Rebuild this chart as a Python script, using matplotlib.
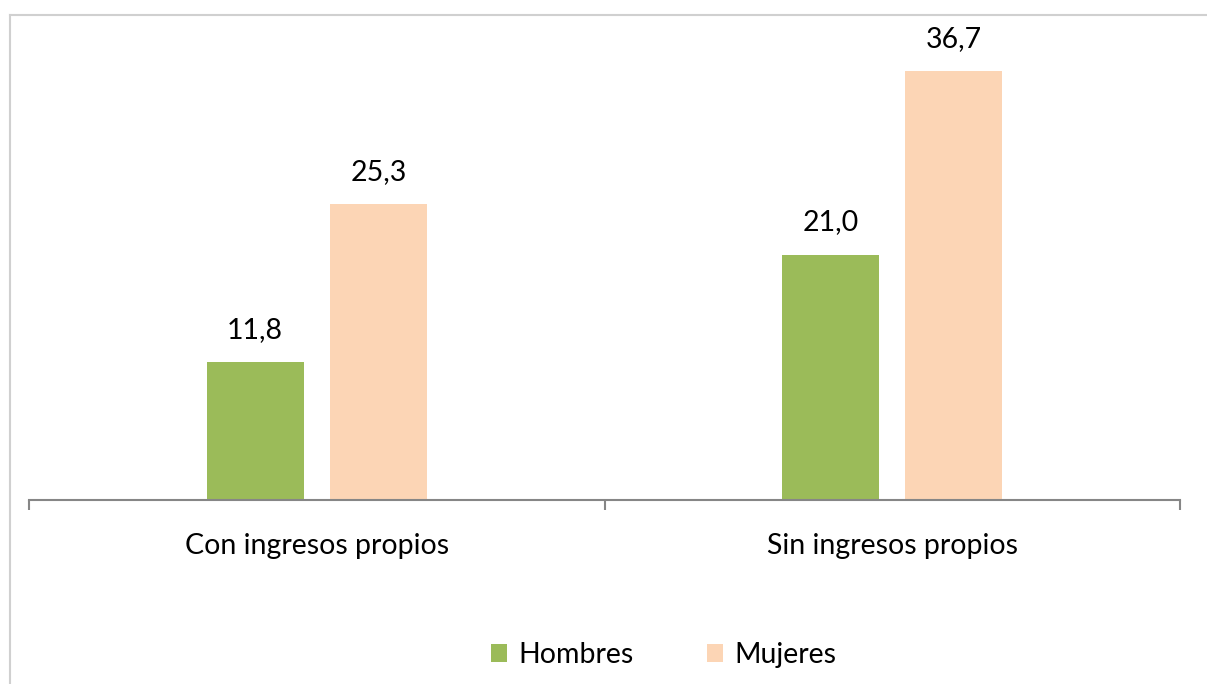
import matplotlib.pyplot as plt
from matplotlib.lines import Line2D
import numpy as np

categories = ['Con ingresos propios', 'Sin ingresos propios']
hombres = [11.8, 21.0]
mujeres = [25.3, 36.7]
series_names = ['Hombres', 'Mujeres']
colors = ['#9BBB59', '#FCD5B5']

plt.rcParams['font.family'] = ['Lato', 'DejaVu Sans']

fig = plt.figure(figsize=(12.07, 6.84), dpi=100)
ax = fig.add_axes([29 / 1207, 184 / 684, 1151 / 1207, 0.6836])

x = np.arange(len(categories))
width = 0.169
offset = 0.107
bars_h = ax.bar(x - offset, hombres, width, color=colors[0], label=series_names[0])
bars_m = ax.bar(x + offset, mujeres, width, color=colors[1], label=series_names[1])

for bars, vals in [(bars_h, hombres), (bars_m, mujeres)]:
    for b, v in zip(bars, vals):
        ax.annotate(f"{v:.1f}".replace('.', ','), (b.get_x() + b.get_width() / 2, v),
                    xytext=(0, 14), textcoords='offset points',
                    ha='center', va='bottom', fontsize=20.5)

ax.set_xlim(-0.5, 1.5)
ax.set_ylim(0, 40)
ax.set_yticks([])
for s in ['top', 'right', 'left']:
    ax.spines[s].set_visible(False)
ax.spines['bottom'].set_color('#868686')
ax.spines['bottom'].set_linewidth(1.5)

ax.set_xticks(x)
ax.set_xticklabels(categories, fontsize=20.5)
ax.tick_params(axis='x', which='major', length=0, pad=24)
ax.set_xticks([-0.5, 0.5, 1.5], minor=True)
ax.tick_params(axis='x', which='minor', length=7.5, width=1.5, color='#868686')

fig.legend(loc='center', bbox_to_anchor=(0.55, 1 - 655 / 684), ncol=2,
           frameon=False, fontsize=20.5, handlelength=0.55, handleheight=0.55,
           handletextpad=0.4, columnspacing=2.6)

# chart border
fig.add_artist(Line2D([10 / 1207, 1.0], [1 - 15 / 684, 1 - 15 / 684],
                      transform=fig.transFigure, color='#D0D0D0', lw=1.5))
fig.add_artist(Line2D([10 / 1207, 10 / 1207], [1 - 15 / 684, 0],
                      transform=fig.transFigure, color='#D0D0D0', lw=1.5))

fig.savefig('out.png', dpi=100)
